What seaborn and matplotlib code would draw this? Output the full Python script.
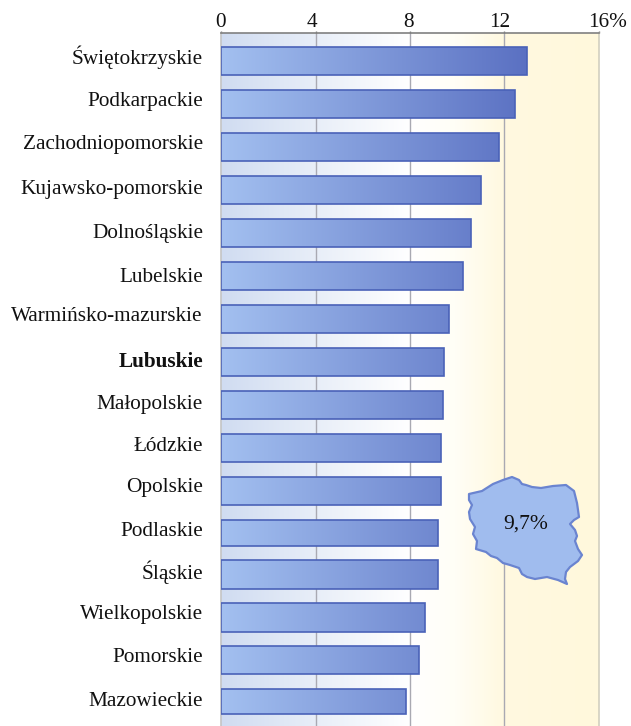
import numpy as np
import pandas as pd
import matplotlib
matplotlib.use("Agg")
import matplotlib.pyplot as plt
from matplotlib.colors import LinearSegmentedColormap
from matplotlib.patches import Polygon
from matplotlib.transforms import ScaledTranslation, Affine2D
import seaborn as sns

regions = ["Świętokrzyskie", "Podkarpackie", "Zachodniopomorskie", "Kujawsko-pomorskie",
           "Dolnośląskie", "Lubelskie", "Warmińsko-mazurskie", "Lubuskie", "Małopolskie",
           "Łódzkie", "Opolskie", "Podlaskie", "Śląskie", "Wielkopolskie", "Pomorskie",
           "Mazowieckie"]
values = [12.95, 12.45, 11.75, 11.0, 10.6, 10.25, 9.65, 9.45, 9.4, 9.3, 9.3, 9.2, 9.2, 8.65, 8.4, 7.85]
label_shift_px = [-6, -5, -5, -3, -2, -1, -5, -2, -3, -4, -6, -5, -7, -8, -8, -7]
x_ticks = [0, 4, 8, 12, 16]
x_tick_labels = ["0", "4", "8", "12", "16%"]
x_label_shift_px = [0, -4, -1, -5, 9]
national_label = "9,7%"
# slight irregularities of the last bars in the source, as (top, bottom) screen rows
late_bar_rows = {11: (520, 546), 12: (560, 589), 13: (603, 632), 14: (646, 674), 15: (689, 714)}
poland_outline_px = [
    (469, 494), (482, 491), (493, 484), (503, 480), (512, 477), (519, 480), (522, 484), (526, 485),
    (532, 487), (541, 488), (553, 486), (566, 485), (574, 491), (577, 503), (579, 517), (574, 520),
    (570, 524), (575, 530), (577, 536), (575, 541), (578, 549), (582, 555), (578, 561), (570, 567),
    (566, 572), (565, 579), (567, 584), (558, 580), (547, 577), (535, 579), (527, 577), (522, 574),
    (519, 568), (510, 565), (503, 563), (497, 558), (491, 556), (486, 552), (476, 549), (477, 541),
    (473, 534), (475, 527), (470, 519), (469, 512), (472, 505), (469, 500),
]

plt.rcParams["font.family"] = ["Liberation Serif", "DejaVu Serif"]
W, H = 631, 726
fig = plt.figure(figsize=(W / 100, H / 100), dpi=100)
ax = fig.add_axes([221 / W, 0, (599 - 221) / W, (726 - 33) / H])

df = pd.DataFrame({"region": regions, "value": values})
sns.barplot(data=df, x="value", y="region", orient="h", width=0.66, ax=ax,
            color="#8aa3e0", edgecolor="#4a62b8", linewidth=1.2, zorder=3)

ylim = (15.465, -0.651)
ax.set_xlim(0, 16)
ax.set_ylim(*ylim)
ax.set_xlabel("")
ax.set_ylabel("")

bg = LinearSegmentedColormap.from_list("bg", [(0, "#d0dcf1"), (0.25, "#e8eef8"), (0.5, "#ffffff"),
                                              (0.62, "#fffef6"), (0.75, "#fff9e0"), (1, "#fff8dc")])
grad = np.linspace(0, 1, 256).reshape(1, -1)
ax.imshow(grad, cmap=bg, extent=(0, 16, ylim[0], ylim[1]), aspect="auto", zorder=0)

for i, (top, bot) in late_bar_rows.items():
    ax.patches[i].set_y((top - 61) / 43)
    ax.patches[i].set_height((bot - top) / 43)

barc = LinearSegmentedColormap.from_list("bar", ["#a3c0f0", "#5a70c2"])
for patch in ax.patches:
    im = ax.imshow(grad, cmap=barc, extent=(0, 13, ylim[0], ylim[1]), aspect="auto", zorder=2.5)
    im.set_clip_path(patch.get_path(), patch.get_transform())
    patch.set_facecolor("none")
ax.set_xlim(0, 16)
ax.set_ylim(*ylim)

for t in x_ticks[1:-1]:
    ax.axvline(t, color="#a9a9b2", lw=1, zorder=1)

ax.xaxis.tick_top()
ax.set_xticks(x_ticks)
ax.set_xticklabels(x_tick_labels)
ax.tick_params(axis="x", length=1.5, width=1, color="#808080", labelsize=15.3, pad=1, labelcolor="#111111")
ax.tick_params(axis="y", length=0, labelsize=15.3, pad=13, labelcolor="#111111")
for side, col in [("top", "#808080"), ("left", "#c4c4c4"), ("right", "#d2d0c0")]:
    ax.spines[side].set_color(col)
    ax.spines[side].set_linewidth(1.2)
ax.spines["bottom"].set_visible(False)

for lab, shift in zip(ax.get_yticklabels(), label_shift_px):
    lab.set_transform(lab.get_transform() + ScaledTranslation(0, -shift / 100, fig.dpi_scale_trans))
    if lab.get_text() == "Lubuskie":
        lab.set_fontweight("bold")
for lab, shift in zip(ax.get_xticklabels(), x_label_shift_px):
    lab.set_transform(lab.get_transform() + ScaledTranslation(shift / 100, -0.02, fig.dpi_scale_trans))

to_fig = Affine2D().scale(1, -1).translate(0, H)
poly = Polygon(poland_outline_px, closed=True, transform=to_fig, facecolor="#a0bcee",
               edgecolor="#6a84d0", linewidth=1.6, joinstyle="round", zorder=5, clip_on=False)
ax.add_patch(poly)
ax.text(526, 524, national_label, transform=to_fig, ha="center", va="center",
        fontsize=15.5, color="#111111", zorder=6)

fig.savefig("out.png", dpi=100)
